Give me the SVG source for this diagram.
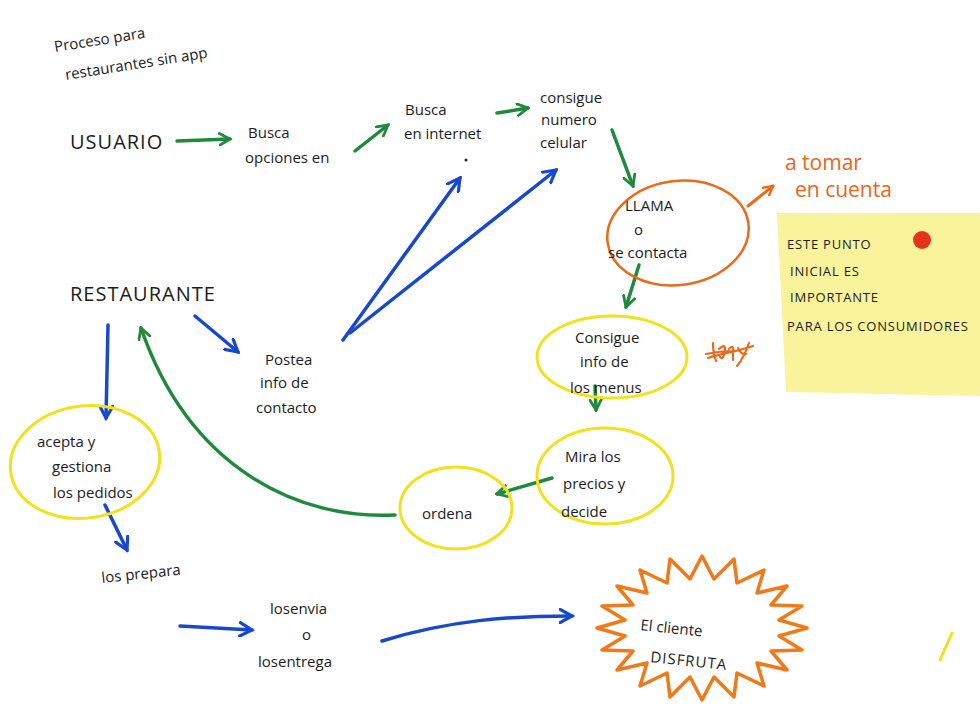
<svg xmlns="http://www.w3.org/2000/svg" width="980" height="715" viewBox="0 0 980 715">
<style>
.t{font-family:"Open Sans","Liberation Sans",sans-serif;fill:#1c1c1c;font-size:15px}
.u{font-size:20px;letter-spacing:1px}
.o{fill:#e8651a;font-size:21px}
.n{font-size:13px;letter-spacing:0.8px}
.g{fill:none;stroke:#1f8a3c;stroke-width:3.5;stroke-linecap:round}
.b{fill:none;stroke:#1848cf;stroke-width:3.5;stroke-linecap:round}
.or{fill:none;stroke:#ea6a1c;stroke-width:3;stroke-linecap:round}
.ye{fill:none;stroke:#f0e21c;stroke-width:3}
</style>
<defs>
<marker id="mg" viewBox="0 0 12 12" refX="10" refY="6" markerWidth="14" markerHeight="14" markerUnits="userSpaceOnUse" orient="auto"><path d="M1,1 L10,6 L1,11" fill="none" stroke="#1f8a3c" stroke-width="2.4" stroke-linecap="round"/></marker>
<marker id="mb" viewBox="0 0 12 12" refX="10" refY="6" markerWidth="16" markerHeight="16" markerUnits="userSpaceOnUse" orient="auto"><path d="M1,1 L10,6 L1,11" fill="none" stroke="#1848cf" stroke-width="2.4" stroke-linecap="round"/></marker>
<marker id="mo" viewBox="0 0 12 12" refX="10" refY="6" markerWidth="12" markerHeight="12" markerUnits="userSpaceOnUse" orient="auto"><path d="M1,1 L10,6 L1,11" fill="none" stroke="#ea6a1c" stroke-width="2.4" stroke-linecap="round"/></marker>
</defs>
<rect width="980" height="715" fill="#ffffff"/>

<g id="title">
<text class="t" font-size="18" transform="translate(55,52) rotate(-9)">Proceso para</text>
<text class="t" font-size="18" transform="translate(66,80) rotate(-9)">restaurantes sin app</text>
</g>

<g id="note">
<polygon points="777,213 980,213 980,396 786,392" fill="#f9f39c"/>
<circle cx="922" cy="240" r="9" fill="#e8321a"/>
<text class="t n" font-size="14" x="787" y="249">ESTE PUNTO</text>
<text class="t n" font-size="14" x="790" y="276">INICIAL ES</text>
<text class="t n" font-size="14" x="790" y="302">IMPORTANTE</text>
<text class="t n" x="787" y="331">PARA LOS CONSUMIDORES</text>
</g>

<g id="connectors">
<path class="g" d="M177,141 L230,139" marker-end="url(#mg)"/>
<path class="g" d="M355,151 L388,125" marker-end="url(#mg)"/>
<path class="g" d="M497,113 L528,108" marker-end="url(#mg)"/>
<path class="g" d="M612,130 L633,186" marker-end="url(#mg)"/>
<path class="g" d="M639,265 L626,307" marker-end="url(#mg)"/>
<path class="g" d="M595,386 L596,410" marker-end="url(#mg)"/>
<path class="g" d="M552,478 L497,494" marker-end="url(#mg)"/>
<path class="g" d="M395,515 C300,520 190,470 141,328" marker-end="url(#mg)"/>
<path class="or" d="M748,206 L773,186" marker-end="url(#mo)"/>
<path class="b" d="M195,316 L238,352" marker-end="url(#mb)"/>
<path class="b" d="M343,340 L460,178" marker-end="url(#mb)"/>
<path class="b" d="M350,333 L556,170" marker-end="url(#mb)"/>
<path class="b" d="M108,325 L106,418" marker-end="url(#mb)"/>
<path class="b" d="M105,505 L127,550" marker-end="url(#mb)"/>
<path class="b" d="M180,626 L252,630" marker-end="url(#mb)"/>
<path class="b" d="M382,641 C450,620 510,616 572,616" marker-end="url(#mb)"/>
</g>

<g id="usuario"><text class="t u" x="70" y="149">USUARIO</text></g>
<g id="busca-opciones">
<text class="t" x="248" y="138">Busca</text>
<text class="t" x="245" y="163">opciones en</text>
</g>
<g id="busca-internet">
<text class="t" x="405" y="115">Busca</text>
<text class="t" x="404" y="139">en internet</text>
<circle cx="466" cy="160" r="1.5" fill="#222"/>
</g>
<g id="consigue-numero">
<text class="t" font-size="13" x="540" y="103">consigue</text>
<text class="t" font-size="12" x="541" y="125">numero</text>
<text class="t" font-size="13" x="540" y="148">celular</text>
</g>
<g id="llama">
<ellipse cx="678" cy="233" rx="71" ry="52" fill="none" stroke="#ea6a1c" stroke-width="2.5" transform="rotate(-8 678 233)"/>
<text class="t" font-size="13" x="625" y="211">LLAMA</text>
<text class="t" font-size="12" x="634" y="235">o</text>
<text class="t" x="608" y="258">se contacta</text>
</g>
<g id="a-tomar">
<text class="t o" x="785" y="170">a tomar</text>
<text class="t o" font-size="19" x="795" y="197">en cuenta</text>
</g>
<g id="scribble">
<path d="M706,354 C716,352 726,351 734,351 M713,343 C713,350 714,356 716,361 M719,349 C722,346 725,344 725,350 C725,356 722,360 720,357 M729,349 C731,346 734,346 733,352 L733,360 M738,348 C740,352 742,355 746,354 M749,343 C746,352 742,360 737,366 M708,358 C722,353 740,351 753,346" fill="none" stroke="#ea6a1c" stroke-width="2.2" stroke-linecap="round"/>
</g>
<g id="consigue-info">
<ellipse cx="612" cy="357" rx="75" ry="41" class="ye"/>
<text class="t" x="575" y="343">Consigue</text>
<text class="t" x="580" y="367">info de</text>
<text class="t" x="570" y="393">los menus</text>
</g>
<g id="mira">
<ellipse cx="605" cy="476" rx="68" ry="48" class="ye"/>
<text class="t" x="565" y="462">Mira los</text>
<text class="t" x="563" y="489">precios y</text>
<text class="t" font-size="17" x="561" y="517">decide</text>
</g>
<g id="ordena">
<ellipse cx="456" cy="508" rx="56" ry="41" class="ye"/>
<text class="t" font-size="17" x="422" y="519">ordena</text>
</g>
<g id="restaurante"><text class="t u" x="70" y="301">RESTAURANTE</text></g>
<g id="postea">
<text class="t" x="265" y="365">Postea</text>
<text class="t" x="260" y="388">info de</text>
<text class="t" x="256" y="413">contacto</text>
</g>
<g id="acepta">
<ellipse cx="85" cy="462" rx="75" ry="56" class="ye" transform="rotate(-8 85 462)"/>
<text class="t" x="37" y="447">acepta y</text>
<text class="t" x="52" y="472">gestiona</text>
<text class="t" x="53" y="498">los pedidos</text>
</g>
<g id="prepara"><text class="t" transform="translate(102,583) rotate(-6)">los prepara</text></g>
<g id="envia">
<text class="t" x="270" y="614">losenvia</text>
<text class="t" x="302" y="640">o</text>
<text class="t" font-size="17" x="258" y="667">losentrega</text>
</g>
<g id="disfruta">
<polygon points="807,628 779,636 802,650 771,651 787,670 757,663 764,686 737,673 734,697 714,677 702,700 690,677 670,697 667,673 640,686 647,663 617,670 633,651 602,650 625,636 597,628 625,620 602,606 633,605 617,586 647,593 640,570 667,583 670,559 690,579 702,556 714,579 734,559 737,583 764,570 757,593 787,586 771,605 802,606 779,620" fill="none" stroke="#f07a1a" stroke-width="3.5" stroke-linejoin="round"/>
<text class="t" font-size="18" transform="translate(640,630) rotate(6)">El  cliente</text>
<text class="t" font-size="16" letter-spacing="1" transform="translate(650,662) rotate(6)">DISFRUTA</text>
</g>
<g id="yellow-mark"><path d="M940,660 L952,633" stroke="#f0e21c" stroke-width="3" stroke-linecap="round"/></g>
</svg>
